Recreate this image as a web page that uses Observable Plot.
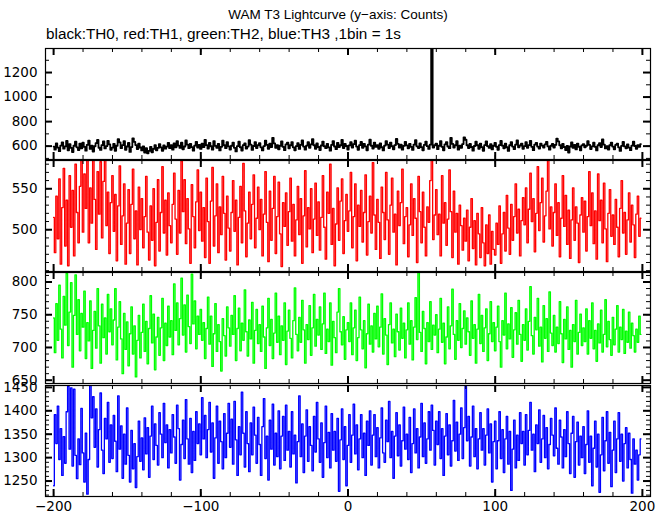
<!DOCTYPE html>
<html>
<head>
<meta charset="utf-8">
<script src="https://cdn.jsdelivr.net/npm/d3@7"></script>
<script src="https://cdn.jsdelivr.net/npm/@observablehq/plot@0.6"></script>
<style>
  html, body { margin: 0; padding: 0; background: white; }
  #wrap { position: relative; width: 669px; height: 515px; overflow: hidden; background: white; }
  #title { position: absolute; left: 0; width: 676px; top: 7px; text-align: center;
           font-family: "Liberation Sans", Arial, sans-serif; font-size: 13.5px; color: #000; }
  #subtitle { position: absolute; left: 46px; top: 25px;
           font-family: "Liberation Sans", Arial, sans-serif; font-size: 15.3px; color: #000; }
  #wrap svg { position: absolute; left: 0; }
</style>
</head>
<body>
<div id="wrap">
  <div id="title">WAM T3 Lightcurve (y−axis: Counts)</div>
  <div id="subtitle">black:TH0, red:TH1, green:TH2, blue:TH3 ,1bin = 1s</div>
</div>
<script>
// Time bins (s), 1 bin = 1 s
const time = d3.range(-200, 200);

// TH0 (black) counts
const th0 = [
596,571,622,588,559,604,631,579,598,642,566,617,585,552,603,636,590,568,621,582,
628,594,563,611,645,577,603,556,599,624,651,587,569,609,638,581,600,643,614,570,
588,619,562,603,657,630,583,608,641,570,597,626,553,592,664,635,609,576,621,589,
565,598,548,583,541,561,594,550,578,607,566,585,617,590,562,605,579,596,627,583,
609,571,622,591,640,604,585,628,574,597,646,612,583,619,592,563,604,635,588,610,
577,621,592,650,608,580,627,599,571,641,602,587,618,565,594,644,607,583,632,598,
572,603,629,586,557,600,636,591,564,609,622,580,596,648,612,569,601,633,584,607,
624,590,565,600,644,611,578,620,593,668,622,586,609,574,603,639,594,567,614,628,
582,607,633,590,566,600,624,577,611,646,596,571,604,632,586,615,657,607,578,622,
593,568,605,637,599,583,619,590,563,610,641,597,575,627,592,607,650,584,618,601,
572,606,632,589,617,644,596,570,609,634,586,619,598,566,613,652,603,580,628,594,
609,578,622,591,565,604,641,612,584,629,599,574,608,659,619,588,613,571,602,635,
606,582,619,594,569,613,648,598,584,622,592,566,610,637,600,577,613,1500,589,607,
621,575,603,641,594,566,614,633,597,583,668,619,589,607,640,571,604,586,617,672,
652,607,584,619,593,563,601,636,607,578,620,592,562,608,639,600,586,616,573,603,
627,595,570,609,642,604,582,620,591,561,607,633,596,575,612,646,590,605,621,578,
600,632,587,608,643,594,567,612,627,596,580,621,604,589,614,635,598,571,603,618,
588,610,662,638,607,582,619,593,568,602,548,597,630,586,610,573,621,595,566,606,
617,590,603,640,611,576,598,628,594,565,607,624,592,655,613,581,600,572,607,629,
596,574,610,621,590,561,602,634,598,582,615,588,567,604,636,601,578,609,594,617
];

// TH1 (red) counts
const th1 = [
515,472,541,489,562,458,527,575,480,536,456,566,503,548,468,580,521,484,553,585,
497,568,526,585,484,551,508,585,537,476,571,519,583,490,559,585,505,546,471,533,
566,498,543,462,529,578,482,517,556,458,508,549,471,531,574,489,523,457,552,500,
538,478,516,565,497,463,529,487,550,456,509,561,474,521,577,496,536,469,545,505,
484,531,569,513,470,548,496,584,522,561,483,538,501,459,555,516,478,534,573,499,
546,486,527,466,563,510,459,535,576,480,517,556,472,528,494,565,520,463,541,502,
474,521,560,498,536,457,515,553,484,581,523,467,508,546,489,531,567,478,514,552,
500,537,468,519,571,509,461,547,487,526,565,471,516,558,495,455,533,504,545,481,
522,563,486,531,468,512,553,494,538,459,517,572,479,527,501,550,472,513,557,493,
534,475,515,566,503,464,546,520,580,482,526,456,507,551,487,535,562,471,511,543,
498,523,570,478,516,556,462,530,504,548,485,521,567,469,510,541,496,582,518,476,
537,509,465,552,521,488,570,512,470,530,563,497,519,457,547,505,533,574,483,516,
527,467,506,556,493,538,514,460,565,522,484,546,503,468,528,509,560,585,488,518,
549,494,519,468,566,508,533,481,513,573,522,466,547,497,520,458,530,505,475,514,
486,524,462,503,538,477,511,457,520,495,466,527,484,456,506,471,518,458,498,476,
469,508,482,529,459,495,521,474,542,502,470,531,487,516,556,496,525,468,511,539,
506,551,484,525,569,510,538,473,520,577,499,533,563,485,517,547,585,501,528,480,
521,556,493,533,467,514,566,504,542,482,524,465,512,551,487,528,508,460,518,539,
497,535,474,516,571,505,545,483,523,464,568,511,536,484,557,501,461,520,549,492,
518,482,537,503,467,526,560,496,521,470,512,545,485,530,506,466,519,541,492,514
];

// TH2 (green) counts
const th2 = [
745,692,767,711,795,728,684,778,734,813,703,754,799,670,749,811,720,773,695,752,
731,786,683,738,710,771,668,726,755,699,790,733,676,766,715,745,690,781,724,759,
704,742,790,681,731,770,713,660,752,697,739,672,721,762,690,733,655,711,749,684,
723,766,694,740,675,729,779,707,751,666,716,746,688,730,775,680,737,703,763,716,
741,689,797,726,768,704,744,806,719,765,693,780,732,706,812,736,771,698,748,720,
758,711,738,683,729,777,705,748,671,721,767,694,735,709,664,744,718,687,762,730,
702,749,720,779,680,729,760,695,737,711,788,724,687,742,713,769,676,726,758,706,
735,694,763,716,668,730,775,703,743,683,722,783,708,748,689,733,711,768,674,725,
757,714,684,741,791,720,695,746,708,772,727,676,735,712,764,688,730,781,702,743,
719,762,697,736,783,691,728,709,768,673,740,715,692,754,790,724,704,747,682,727,
738,709,768,689,730,757,680,715,777,727,698,741,669,721,766,705,733,693,752,713,
763,701,731,782,690,744,719,674,735,768,707,728,686,751,724,696,760,714,737,684,
727,768,705,741,681,731,776,712,815,723,694,755,729,675,738,709,770,697,734,719,
750,692,728,775,708,737,675,716,762,698,733,789,720,682,741,711,767,700,729,756,
705,745,724,688,771,714,735,676,728,781,706,749,694,730,759,680,721,770,709,738,
695,731,763,709,670,741,719,783,698,736,713,761,685,727,753,705,772,720,679,735,
711,759,696,740,793,718,690,746,727,775,702,731,678,764,714,744,694,785,722,703,
749,693,731,706,770,721,677,743,713,762,697,726,670,735,709,772,690,723,751,703,
730,709,759,690,741,714,768,698,726,679,736,707,757,693,720,773,701,740,712,688,
746,704,728,764,693,731,712,758,691,725,708,754,699,737,718,693,728,708,748,720
];

// TH3 (blue) counts
const th3 = [
1240,1392,1330,1410,1296,1362,1262,1345,1288,1398,1452,1318,1449,1282,1446,1305,1255,1340,1285,1405,
1310,1248,1352,1222,1296,1455,1385,1430,1322,1404,1280,1360,1438,1316,1266,1384,1340,1418,1290,1370,
1298,1390,1335,1270,1432,1318,1368,1256,1350,1286,1406,1305,1248,1358,1276,1330,1236,1302,1378,1292,
1342,1274,1385,1308,1364,1258,1346,1410,1296,1372,1326,1284,1396,1350,1300,1416,1332,1370,1278,1360,
1310,1392,1344,1288,1412,1362,1252,1328,1380,1298,1424,1340,1286,1384,1268,1356,1294,1398,1330,1372,
1306,1428,1340,1390,1300,1360,1418,1312,1374,1256,1342,1410,1288,1378,1334,1276,1394,1300,1352,1416,
1322,1382,1286,1420,1338,1262,1366,1306,1440,1352,1280,1398,1330,1270,1374,1306,1408,1348,1288,1386,
1328,1262,1366,1426,1298,1346,1252,1380,1318,1414,1284,1352,1302,1400,1276,1346,1388,1294,1412,1316,
1356,1280,1398,1308,1348,1246,1334,1432,1302,1372,1268,1346,1402,1292,1366,1326,1272,1388,1312,1418,
1340,1290,1374,1258,1332,1410,1300,1354,1278,1394,1316,1356,1292,1384,1228,1338,1404,1296,1366,1240,
1326,1392,1290,1348,1414,1308,1370,1274,1340,1392,1300,1352,1262,1378,1326,1400,1284,1348,1392,1302,
1364,1278,1342,1406,1310,1290,1380,1334,1420,1300,1356,1256,1346,1396,1304,1370,1282,1336,1408,1318,
1350,1296,1386,1268,1330,1404,1310,1362,1278,1344,1416,1302,1374,1288,1340,1398,1316,1412,1358,1284,
1378,1328,1398,1298,1362,1262,1346,1394,1306,1370,1282,1336,1422,1314,1376,1294,1350,1406,1298,1364,
1452,1336,1388,1282,1344,1410,1302,1362,1276,1340,1396,1316,1362,1284,1348,1404,1310,1372,1248,1334,
1378,1276,1336,1398,1298,1360,1268,1340,1388,1286,1356,1230,1318,1380,1278,1348,1294,1396,1330,1356,
1284,1392,1306,1358,1418,1316,1350,1270,1370,1330,1402,1290,1340,1390,1300,1364,1276,1328,1384,1348,
1304,1406,1320,1286,1380,1344,1278,1360,1302,1398,1330,1266,1352,1388,1258,1334,1376,1284,1346,1300,
1366,1266,1328,1400,1290,1346,1240,1320,1378,1280,1350,1226,1306,1386,1272,1336,1398,1288,1354,1238,
1316,1378,1268,1340,1396,1292,1350,1250,1330,1364,1278,1352,1296,1224,1340,1286,1316,1252,1306,1340
];

// Tick values
const xMajorTicks = [-200, -100, 0, 100, 200];
const xMinorTicks = d3.range(-200, 201, 20);
const y0Ticks = [600, 800, 1000, 1200];
const y1Ticks = [500, 550];
const y2Ticks = [650, 700, 750, 800];
const y3Ticks = [1250, 1300, 1350, 1400, 1450];

// Panel settings (layout/style, separate from the data)
const W = 669, ML = 45, MR = 19;
const panels = [
  {values: th0, color: "black",   sw: 1.8, domain: [491, 1396],  major: y0Ticks, minor: d3.range(500, 1400, 100), top: 48,  h: 111},
  {values: th1, color: "#ff0000", sw: 1.3, domain: [449, 584.5], major: y1Ticks, minor: d3.range(450, 585, 10),  top: 160, h: 111},
  {values: th2, color: "#00ff00", sw: 1.3, domain: [645, 814.5], major: y2Ticks, minor: d3.range(650, 815, 10),  top: 272, h: 111},
  {values: th3, color: "#0000ff", sw: 1.3, domain: [1217, 1454], major: y3Ticks, minor: d3.range(1220, 1455, 10), top: 385, h: 111}
];

const wrap = document.getElementById("wrap");
const innerW = W - ML - MR;
const fmtY = d => String(d);
const fmtX = d3.format("d");

panels.forEach((p, i) => {
  const last = i === panels.length - 1;
  const mt = 4, mb = last ? 26 : 4;
  const rows = time.map((t, k) => ({t, v: p.values[k]}));
  const svg = Plot.plot({
    width: W,
    height: p.h + mt + mb,
    marginLeft: ML, marginRight: MR, marginTop: mt, marginBottom: mb,
    style: {background: "transparent", overflow: "visible", fontFamily: "DejaVu Sans, sans-serif", fontSize: "13.5px", color: "black"},
    x: last
      ? {domain: [-205.5, 205.5], ticks: xMajorTicks, tickSize: 0, tickPadding: 5, tickFormat: fmtX, label: null}
      : {domain: [-205.5, 205.5], axis: null},
    y: {domain: p.domain, ticks: p.major, tickSize: 0, tickPadding: 8, tickFormat: fmtY, label: null},
    marks: [
      Plot.line(rows, {x: "t", y: "v", curve: "step", stroke: p.color, strokeWidth: p.sw, clip: true}),
      // minor x ticks (bottom & top, inward)
      Plot.tickX(xMinorTicks, {x: d => d, insetTop: p.h - 4, stroke: "black", strokeWidth: 1}),
      Plot.tickX(xMinorTicks, {x: d => d, insetBottom: p.h - 4, stroke: "black", strokeWidth: 1}),
      // major x ticks
      Plot.tickX(xMajorTicks, {x: d => d, insetTop: p.h - 7, stroke: "black", strokeWidth: 2}),
      Plot.tickX(xMajorTicks, {x: d => d, insetBottom: p.h - 7, stroke: "black", strokeWidth: 2}),
      // minor y ticks (left & right, inward)
      Plot.tickY(p.minor, {y: d => d, insetRight: innerW - 4, stroke: "black", strokeWidth: 1}),
      Plot.tickY(p.minor, {y: d => d, insetLeft: innerW - 4, stroke: "black", strokeWidth: 1}),
      // major y ticks
      Plot.tickY(p.major, {y: d => d, insetRight: innerW - 7, stroke: "black", strokeWidth: 2}),
      Plot.tickY(p.major, {y: d => d, insetLeft: innerW - 7, stroke: "black", strokeWidth: 2}),
      Plot.frame({stroke: "black", strokeWidth: 1.2})
    ]
  });
  svg.style.top = (p.top - mt) + "px";
  wrap.appendChild(svg);
});
</script>
</body>
</html>
